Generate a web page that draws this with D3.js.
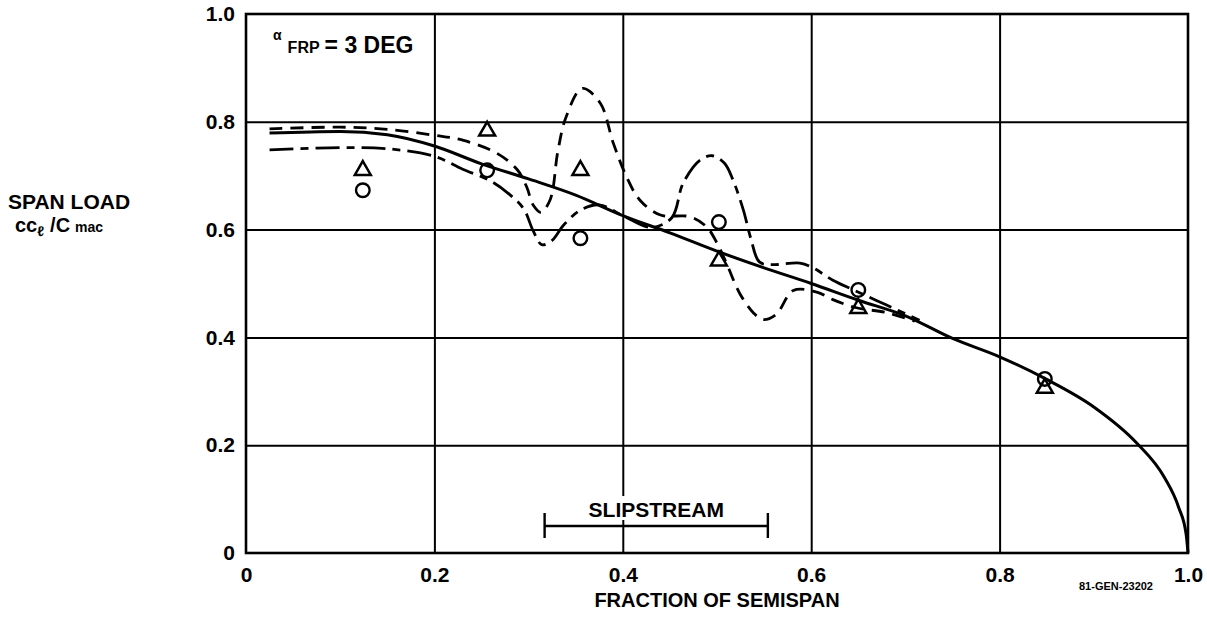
<!DOCTYPE html>
<html>
<head>
<meta charset="utf-8">
<script src="https://cdn.jsdelivr.net/npm/d3@7"></script>
<style>
  html, body { margin: 0; padding: 0; background: #fff; }
  svg { display: block; }
  text { font-family: "Liberation Sans", Arial, sans-serif; font-weight: bold; fill: #000; }
</style>
</head>
<body>
<svg id="chart" width="1207" height="620"></svg>
<script>
// span load vs fraction of semispan, alpha_FRP = 3 deg
var xTicks = [0, 0.2, 0.4, 0.6, 0.8, 1.0];
var xTickLabels = ["0", "0.2", "0.4", "0.6", "0.8", "1.0"];
var yTicks = [0, 0.2, 0.4, 0.6, 0.8, 1.0];
var yTickLabels = ["0", "0.2", "0.4", "0.6", "0.8", "1.0"];

// solid curve
var solidCurve = [
  [0.025, 0.779], [0.1, 0.782], [0.15, 0.776], [0.2, 0.755], [0.25, 0.722], [0.3, 0.694],
  [0.35, 0.664], [0.4, 0.626], [0.45, 0.594], [0.5, 0.56], [0.55, 0.529], [0.6, 0.5],
  [0.65, 0.469], [0.7, 0.44], [0.75, 0.398], [0.8, 0.364], [0.85, 0.322], [0.9, 0.271],
  [0.945, 0.205], [0.975, 0.14], [0.99, 0.085], [0.998, 0.035], [1.0, 0.0]
];
// long-short dashed curve
var longDashCurve = [
  [0.025, 0.748], [0.1, 0.752], [0.15, 0.75], [0.2, 0.736], [0.23, 0.712], [0.26, 0.69],
  [0.28, 0.665], [0.295, 0.638], [0.305, 0.597], [0.314, 0.572], [0.325, 0.58], [0.337, 0.608],
  [0.355, 0.636], [0.375, 0.646], [0.4, 0.626], [0.43, 0.604], [0.452, 0.622], [0.464, 0.686],
  [0.482, 0.729], [0.495, 0.737], [0.508, 0.723], [0.517, 0.692], [0.528, 0.636], [0.536, 0.583],
  [0.545, 0.54], [0.56, 0.535], [0.588, 0.538], [0.602, 0.529], [0.623, 0.506], [0.645, 0.488],
  [0.68, 0.46], [0.715, 0.432]
];
// short dashed curve
var shortDashCurve = [
  [0.025, 0.787], [0.1, 0.79], [0.15, 0.786], [0.2, 0.775], [0.23, 0.766], [0.266, 0.742],
  [0.288, 0.711], [0.298, 0.679], [0.305, 0.645], [0.313, 0.632], [0.323, 0.656], [0.331, 0.745],
  [0.34, 0.81], [0.357, 0.862], [0.376, 0.835], [0.39, 0.76], [0.404, 0.698], [0.418, 0.655],
  [0.44, 0.627], [0.471, 0.624], [0.489, 0.605], [0.5, 0.575], [0.51, 0.538], [0.524, 0.482],
  [0.539, 0.445], [0.549, 0.433], [0.563, 0.443], [0.581, 0.487], [0.606, 0.484], [0.623, 0.47],
  [0.648, 0.455], [0.68, 0.446], [0.71, 0.43]
];
var circlePts = [[0.124, 0.673], [0.256, 0.71], [0.355, 0.584], [0.502, 0.614], [0.65, 0.488], [0.848, 0.323]];
var trianglePts = [[0.124, 0.71], [0.256, 0.783], [0.355, 0.71], [0.502, 0.542], [0.65, 0.454], [0.848, 0.306]];
var slipstream = [0.317, 0.554];

var svg = d3.select("#chart");
var x = d3.scaleLinear().domain([0, 1]).range([246, 1188]);
var y = d3.scaleLinear().domain([0, 1]).range([553, 14]);
var W = x(1) - x(0), H = y(0) - y(1);

// grid
svg.append("g").attr("transform", "translate(0," + y(0) + ")")
  .call(d3.axisBottom(x).tickValues(xTicks.slice(1, -1)).tickSize(-H).tickFormat(""))
  .call(function (g) { g.select(".domain").remove(); g.selectAll("line").attr("stroke", "#000").attr("stroke-width", 2); });
svg.append("g").attr("transform", "translate(" + x(0) + ",0)")
  .call(d3.axisLeft(y).tickValues(yTicks.slice(1, -1)).tickSize(-W).tickFormat(""))
  .call(function (g) { g.select(".domain").remove(); g.selectAll("line").attr("stroke", "#000").attr("stroke-width", 2); });

// tick labels
svg.append("g").attr("transform", "translate(0," + y(0) + ")")
  .call(d3.axisBottom(x).tickValues(xTicks).tickSize(0).tickPadding(14).tickFormat(function (d, i) { return xTickLabels[i]; }))
  .call(function (g) { g.select(".domain").remove(); g.selectAll("text").attr("font-size", 21).attr("font-family", null).attr("fill", "#000"); });
svg.append("g").attr("transform", "translate(" + x(0) + ",0)")
  .call(d3.axisLeft(y).tickValues(yTicks).tickSize(0).tickPadding(11).tickFormat(function (d, i) { return yTickLabels[i]; }))
  .call(function (g) { g.select(".domain").remove(); g.selectAll("text").attr("font-size", 21).attr("font-family", null).attr("fill", "#000"); });

// frame
svg.append("rect").attr("x", x(0)).attr("y", y(1)).attr("width", W).attr("height", H)
  .attr("fill", "none").attr("stroke", "#000").attr("stroke-width", 2.6);

// curves
var lineMono = d3.line().x(function (d) { return x(d[0]); }).y(function (d) { return y(d[1]); }).curve(d3.curveMonotoneX);
var lineCR = d3.line().x(function (d) { return x(d[0]); }).y(function (d) { return y(d[1]); }).curve(d3.curveCatmullRom.alpha(0.5));
svg.append("path").attr("d", lineMono(solidCurve)).attr("fill", "none").attr("stroke", "#000").attr("stroke-width", 3);
svg.append("path").attr("d", lineCR(longDashCurve)).attr("fill", "none").attr("stroke", "#000").attr("stroke-width", 2.8)
  .attr("stroke-dasharray", "24,7,8,7");
svg.append("path").attr("d", lineCR(shortDashCurve)).attr("fill", "none").attr("stroke", "#000").attr("stroke-width", 2.8)
  .attr("stroke-dasharray", "13,8");

// symbols
svg.selectAll("circle.pt").data(circlePts).enter().append("circle").attr("class", "pt")
  .attr("cx", function (d) { return x(d[0]); }).attr("cy", function (d) { return y(d[1]); })
  .attr("r", 6.8).attr("fill", "none").attr("stroke", "#000").attr("stroke-width", 2.4);
var tri = d3.symbol().type(d3.symbolTriangle).size(110);
svg.selectAll("path.tri").data(trianglePts).enter().append("path").attr("class", "tri")
  .attr("d", tri).attr("transform", function (d) { return "translate(" + x(d[0]) + "," + y(d[1]) + ")"; })
  .attr("fill", "none").attr("stroke", "#000").attr("stroke-width", 2.5);

// slipstream bracket
var sy = 526, sMid = (x(slipstream[0]) + x(slipstream[1])) / 2;
svg.append("rect").attr("x", sMid - 72).attr("y", 496).attr("width", 144).attr("height", 24).attr("fill", "#fff");
svg.append("line").attr("x1", x(slipstream[0])).attr("x2", x(slipstream[1])).attr("y1", sy).attr("y2", sy)
  .attr("stroke", "#000").attr("stroke-width", 2.6);
slipstream.forEach(function (s) {
  svg.append("line").attr("x1", x(s)).attr("x2", x(s)).attr("y1", sy - 13).attr("y2", sy + 12)
    .attr("stroke", "#000").attr("stroke-width", 2.4);
});
svg.append("text").attr("x", sMid).attr("y", 517).attr("text-anchor", "middle").attr("font-size", 21).text("SLIPSTREAM");

// annotation alpha_FRP = 3 DEG
var ann = svg.append("text").attr("x", 273).attr("y", 53);
ann.append("tspan").attr("font-size", 14).attr("dy", -13).text("\u03b1");
ann.append("tspan").attr("font-size", 16).attr("dx", 6).attr("dy", 13).text("FRP");
ann.append("tspan").attr("font-size", 23).attr("dx", 5).text("= 3 DEG");

// axis titles
svg.append("text").attr("x", (x(0) + x(1)) / 2).attr("y", 607).attr("text-anchor", "middle").attr("font-size", 20).text("FRACTION OF SEMISPAN");
svg.append("text").attr("x", 8).attr("y", 209).attr("font-size", 21).text("SPAN LOAD");
var yl = svg.append("text").attr("x", 15).attr("y", 232);
yl.append("tspan").attr("font-size", 20).text("cc");
yl.append("tspan").attr("font-size", 14).attr("dy", 4).text("\u2113");
yl.append("tspan").attr("font-size", 20).attr("dy", -4).attr("dx", 6).text("/C");
yl.append("tspan").attr("font-size", 14).attr("dx", 5).text("mac");

svg.append("text").attr("x", 1116).attr("y", 590).attr("text-anchor", "middle").attr("font-size", 11).text("81-GEN-23202");
</script>
</body>
</html>
